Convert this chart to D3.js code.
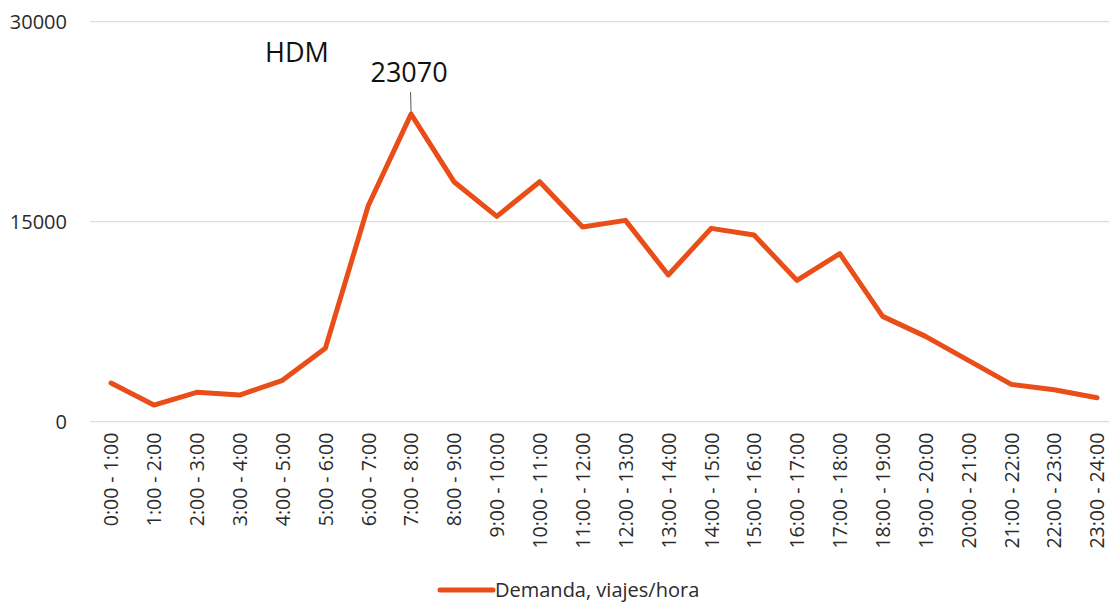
<!DOCTYPE html>
<html>
<head>
<meta charset="utf-8">
<script src="https://cdn.jsdelivr.net/npm/d3@7"></script>
<style>
  html, body { margin: 0; padding: 0; background: #fff; }
  svg { display: block; font-family: "Open Sans", "Noto Sans", sans-serif; }
</style>
</head>
<body>
<svg id="chart" width="1109" height="602"></svg>
<script>
// Hourly demand (trips per hour) by time slot
const categories = [
  "0:00 - 1:00", "1:00 - 2:00", "2:00 - 3:00", "3:00 - 4:00", "4:00 - 5:00",
  "5:00 - 6:00", "6:00 - 7:00", "7:00 - 8:00", "8:00 - 9:00", "9:00 - 10:00",
  "10:00 - 11:00", "11:00 - 12:00", "12:00 - 13:00", "13:00 - 14:00",
  "14:00 - 15:00", "15:00 - 16:00", "16:00 - 17:00", "17:00 - 18:00",
  "18:00 - 19:00", "19:00 - 20:00", "20:00 - 21:00", "21:00 - 22:00",
  "22:00 - 23:00", "23:00 - 24:00"
];
const demanda = [
  2900, 1250, 2200, 2000, 3100, 5500, 16200, 23070, 18000, 15400,
  18000, 14600, 15100, 11000, 14500, 14000, 10600, 12600, 7900, 6400,
  4600, 2800, 2400, 1800
];
const yTicks = [0, 15000, 30000];
const seriesName = "Demanda, viajes/hora";
const peakLabel = "HDM";

const svg = d3.select("#chart");
const W = 1109, H = 602;
const margin = { left: 90, right: 0, top: 21.7, bottom: 180.3 };
const font = "'Open Sans', sans-serif";
const textColor = "#2b2b2b";
const lineColor = "#e94e19";

const x = d3.scalePoint()
  .domain(categories)
  .range([111, 1097])
  .padding(0);

const y = d3.scaleLinear()
  .domain([0, 30000])
  .range([H - margin.bottom, margin.top]);

// horizontal gridlines
svg.append("g")
  .selectAll("line")
  .data(yTicks)
  .join("line")
  .attr("x1", margin.left)
  .attr("x2", W)
  .attr("y1", d => y(d))
  .attr("y2", d => y(d))
  .attr("stroke", "#d6d6d6")
  .attr("stroke-width", 1);

// y axis labels
svg.append("g")
  .attr("class", "y-labels")
  .selectAll("text")
  .data(yTicks)
  .join("text")
  .attr("x", 67)
  .attr("y", d => y(d))
  .attr("dy", "0.35em")
  .attr("text-anchor", "end")
  .attr("font-family", font)
  .attr("font-size", 20)
  .style("font-size", "20px")
  .attr("fill", textColor)
  .text(d3.format("d"));

// x axis labels, rotated
const xAxis = d3.axisBottom(x).tickSize(0).tickPadding(0);
svg.append("g")
  .attr("transform", `translate(0,${y(0)})`)
  .call(xAxis)
  .call(g => g.select(".domain").remove())
  .call(g => g.selectAll("text")
    .style("font-family", font)
    .style("font-size", "19.5px")
    .attr("fill", textColor)
    .attr("text-anchor", "end")
    .attr("dy", "0.35em")
    .attr("x", 0)
    .attr("y", 0)
    .attr("transform", "translate(0,11) rotate(-90)"));

// demand line
const line = d3.line()
  .x((d, i) => x(categories[i]))
  .y(d => y(d));

svg.append("path")
  .datum(demanda)
  .attr("d", line)
  .attr("fill", "none")
  .attr("stroke", lineColor)
  .attr("stroke-width", 5)
  .attr("stroke-linejoin", "round")
  .attr("stroke-linecap", "round");

// peak annotation
const peakIdx = demanda.indexOf(d3.max(demanda));
const px = x(categories[peakIdx]);
const py = y(demanda[peakIdx]);
svg.append("line")
  .attr("x1", px - 0.5).attr("y1", py - 22)
  .attr("x2", px).attr("y2", py - 1)
  .attr("stroke", "#555").attr("stroke-width", 1);
svg.append("text")
  .attr("x", px - 2)
  .attr("y", py - 32)
  .attr("text-anchor", "middle")
  .style("font-family", font)
  .style("font-size", "27px")
  .attr("fill", "#111")
  .text(d3.format("d")(demanda[peakIdx]));
svg.append("text")
  .attr("x", px - 146)
  .attr("y", py - 52)
  .attr("text-anchor", "start")
  .style("font-family", font)
  .style("font-size", "27px")
  .attr("fill", "#111")
  .text(peakLabel);

// legend
const lg = svg.append("g").attr("transform", "translate(440,590)");
lg.append("line")
  .attr("x1", 0).attr("x2", 53)
  .attr("y1", 0).attr("y2", 0)
  .attr("stroke", lineColor).attr("stroke-width", 5)
  .attr("stroke-linecap", "round");
lg.append("text")
  .attr("x", 55).attr("y", 0)
  .attr("dy", "0.35em")
  .style("font-family", font)
  .style("font-size", "20px")
  .attr("fill", textColor)
  .text(seriesName);
</script>
</body>
</html>
